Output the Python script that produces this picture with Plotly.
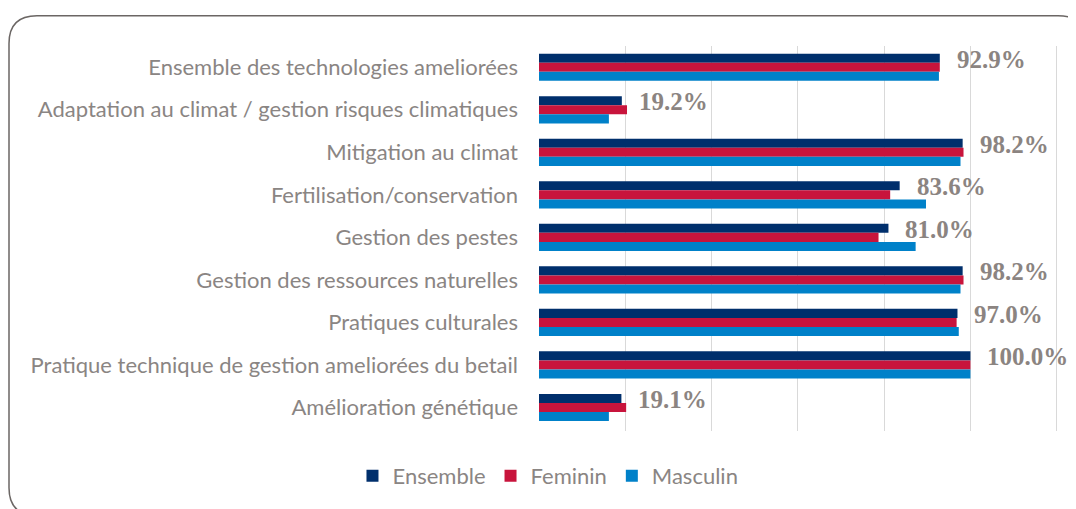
import plotly.graph_objects as go

categories = [
    "Ensemble des technologies ameliorées",
    "Adaptation au climat / gestion risques climatiques",
    "Mitigation au climat",
    "Fertilisation/conservation",
    "Gestion des pestes",
    "Gestion des ressources naturelles",
    "Pratiques culturales",
    "Pratique technique de gestion ameliorées du betail",
    "Amélioration génétique",
]
ensemble = [92.9, 19.2, 98.2, 83.6, 81.0, 98.2, 97.0, 100.0, 19.1]
feminin = [92.9, 20.4, 98.4, 81.4, 78.7, 98.4, 96.8, 100.0, 20.2]
masculin = [92.7, 16.2, 97.7, 89.7, 87.3, 97.7, 97.3, 100.0, 16.2]
value_labels = [f"{v:.1f}%" for v in ensemble]

series = [
    ("Ensemble", ensemble, "#002f6c"),
    ("Feminin", feminin, "#c8143c"),
    ("Masculin", masculin, "#0081c9"),
]

# page body has an 8px margin, so the figure is laid out 8px up/left
W, H = 1068, 501
ml, mr, mt, mb = 531, 18, 37.6, 74.4
pw, ph = W - ml - mr, H - mt - mb

fig = go.Figure()
for name, vals, col in series:
    fig.add_trace(go.Bar(
        y=categories, x=vals, name=name, orientation="h",
        marker=dict(color=col, line=dict(width=0)),
        hoverinfo="x+name",
    ))

for cat, v, lab in zip(categories, ensemble, value_labels):
    fig.add_annotation(
        x=v, y=cat, text=lab, showarrow=False, xanchor="left", yanchor="middle",
        xshift=15, yshift=8,
        font=dict(family="Liberation Serif", size=25, color="#8b8481", weight="bold"),
    )

def px(x):
    return (x - ml) / pw

def py(y):
    return 1 - (y - mt) / ph

x0, y0, x1, y1, r = 1, 7, 1078, 512, 28
path = (
    f"M {px(x0 + r)},{py(y0)} L {px(x1 - r)},{py(y0)} "
    f"Q {px(x1)},{py(y0)} {px(x1)},{py(y0 + r)} "
    f"L {px(x1)},{py(y1 - r)} Q {px(x1)},{py(y1)} {px(x1 - r)},{py(y1)} "
    f"L {px(x0 + r)},{py(y1)} Q {px(x0)},{py(y1)} {px(x0)},{py(y1 - r)} "
    f"L {px(x0)},{py(y0 + r)} Q {px(x0)},{py(y0)} {px(x0 + r)},{py(y0)} Z"
)
fig.add_shape(type="path", path=path, xref="paper", yref="paper",
              line=dict(color="#6b6664", width=1.5), layer="below")

fig.update_layout(
    width=W, height=H,
    margin=dict(l=ml, r=mr, t=mt, b=mb),
    barmode="group", bargap=0.36, bargroupgap=0,
    plot_bgcolor="white", paper_bgcolor="white",
    font=dict(family="Lato", size=22, color="#8a8583"),
    showlegend=True,
    legend=dict(orientation="h", x=0.0173, xanchor="center", y=-0.117, yanchor="middle",
                font=dict(family="Lato", size=22, color="#8a8583"),
                itemwidth=30, traceorder="normal"),
    xaxis=dict(range=[0, 120.3], dtick=20, showticklabels=False, showgrid=True,
               gridcolor="#d9d9d9", gridwidth=1, zeroline=False, showline=False,
               fixedrange=True),
    yaxis=dict(autorange="reversed", showgrid=False, ticks="", ticklabelstandoff=20,
               tickfont=dict(family="Lato", size=22, color="#8a8583"), showline=False),
)

fig.write_html("out.html")
